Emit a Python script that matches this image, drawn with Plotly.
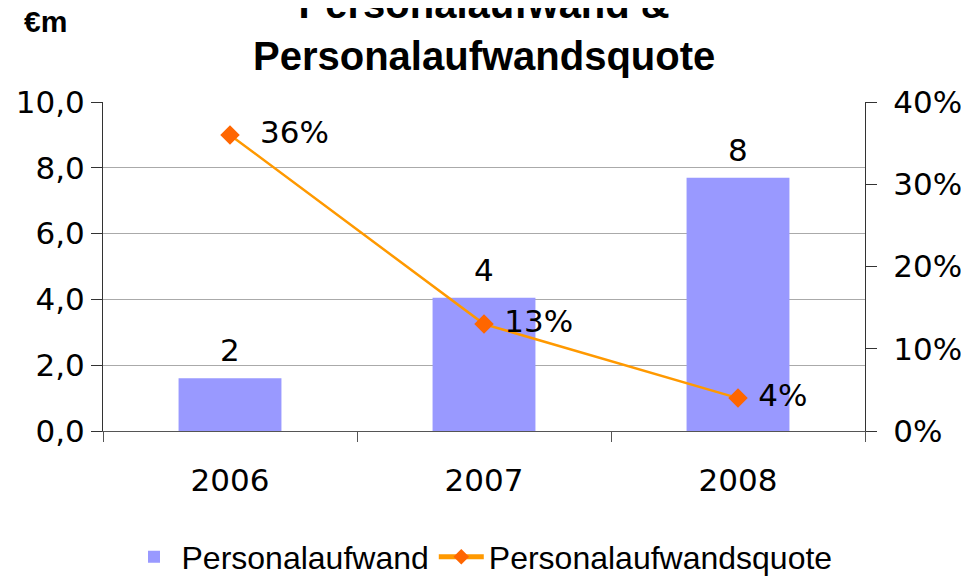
import plotly.graph_objects as go

years = ["2006", "2007", "2008"]
aufwand = [1.6, 4.05, 7.7]
aufwand_labels = ["2", "4", "8"]
quote = [36, 13, 4]
quote_labels = ["  36%", " 13%", " 4%"]
left_ticks = [0, 2, 4, 6, 8, 10]
left_ticktext = ["0,0", "2,0", "4,0", "6,0", "8,0", "10,0"]
right_ticks = [0, 10, 20, 30, 40]
right_ticktext = ["0%", "10%", "20%", "30%", "40%"]

BASE = "DejaVu Sans, Verdana, sans-serif"
NARROW = "Liberation Sans Narrow, Arial Narrow, Liberation Sans, Arial, sans-serif"

W, H = 969, 579
OFF = 8  # page offset of the figure
# plot area in page pixels
PX0, PX1, PY0, PY1 = 103, 865, 102, 431
L, T = PX0 - OFF, PY0 - OFF
R, B = W - (PX1 - OFF), H - (PY1 - OFF)
PW, PH = PX1 - PX0, PY1 - PY0


def px(x):
    return (x - PX0) / PW


def py(y):
    return (PY1 - y) / PH


fig = go.Figure()
fig.add_trace(go.Bar(
    x=years, y=aufwand, name="Personalaufwand",
    marker=dict(color="#9999FF", line=dict(width=0)),
    width=0.405,
))
fig.add_trace(go.Scatter(
    x=years, y=quote, name="Personalaufwandsquote", yaxis="y2",
    mode="lines+markers+text",
    line=dict(color="#FF9900", width=2.5),
    marker=dict(symbol="diamond", size=15, color="#FF6600"),
    text=quote_labels, textposition="middle right",
    textfont=dict(size=31, color="black", family=BASE),
    cliponaxis=False,
))

# bar value labels (x given as category index on the category axis)
bar_annotations = [
    dict(x=i, y=v, xref="x", yref="y", text=t, showarrow=False,
         xanchor="center", yanchor="bottom", yshift=8,
         font=dict(size=31, color="black", family=BASE))
    for i, (v, t) in enumerate(zip(aufwand, aufwand_labels))
]

fig.update_layout(
    width=W, height=H,
    margin=dict(l=L, r=R, t=T, b=B, autoexpand=False),
    paper_bgcolor="white", plot_bgcolor="white",
    font=dict(family=BASE, size=31, color="black"),
    bargap=0.595,
    showlegend=True,
    legend=dict(
        orientation="h", x=px(482), xanchor="center",
        y=py(557), yanchor="middle",
        font=dict(family=NARROW, size=32, color="black"),
        itemsizing="constant", itemwidth=45,
    ),
    xaxis=dict(
        type="category", categoryorder="array", categoryarray=years,
        range=[-0.5, len(years) - 0.5],
        showline=True, linecolor="#555555", linewidth=1,
        ticks="outside", ticklen=10, tickcolor="#555555",
        tickson="boundaries", tickangle=0,
        ticklabelstandoff=22,
        tickfont=dict(size=31, family=BASE),
        showgrid=False, automargin=False,
    ),
    yaxis=dict(
        range=[0, 10], tickvals=left_ticks, ticktext=left_ticktext,
        showline=True, linecolor="#333333", linewidth=1,
        ticks="outside", ticklen=11, tickcolor="#333333",
        showgrid=True, gridcolor="#AAAAAA", gridwidth=1,
        zeroline=False, automargin=False,
        tickfont=dict(size=31, family=BASE),
    ),
    yaxis2=dict(
        range=[0, 40], tickvals=right_ticks, ticktext=right_ticktext,
        overlaying="y", side="right",
        showline=True, linecolor="#333333", linewidth=1,
        ticks="outside", ticklen=11, tickcolor="#333333",
        ticklabelstandoff=10,
        showgrid=False, zeroline=False, automargin=False,
        tickfont=dict(size=31, family=BASE),
    ),
    annotations=bar_annotations + [
        dict(
            text="<b>Personalaufwand &<br>Personalaufwandsquote</b>",
            x=px(484), y=py(30), xref="paper", yref="paper",
            xanchor="center", yanchor="middle", showarrow=False,
            font=dict(family=NARROW, size=40, color="black"),
        ),
        dict(
            text="<b>€m</b>",
            x=px(45), y=py(22),
            xref="paper", yref="paper", xanchor="center", yanchor="middle",
            showarrow=False, font=dict(family=NARROW, size=30, color="black"),
        ),
    ],
)

fig.write_html("out.html")
